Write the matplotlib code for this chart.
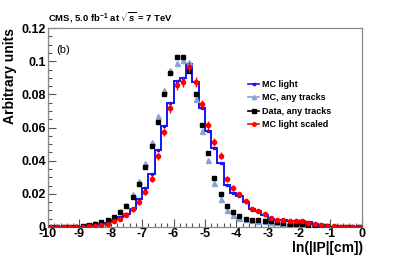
import numpy as np
import matplotlib
matplotlib.use("Agg")
import matplotlib.pyplot as plt
from matplotlib.lines import Line2D
from matplotlib.ticker import MultipleLocator, FuncFormatter

plt.rcParams['font.family'] = ['Liberation Sans', 'DejaVu Sans']
plt.rcParams['mathtext.fontset'] = 'custom'
plt.rcParams['mathtext.rm'] = 'Liberation Sans:bold'
plt.rcParams['mathtext.it'] = 'Liberation Sans:bold:italic'
plt.rcParams['mathtext.bf'] = 'Liberation Sans:bold'
plt.rcParams['axes.unicode_minus'] = False

# bin edges of ln(|IP|[cm]) histogram, 50 bins from -10 to 0
edges = np.linspace(-10, 0, 51)
centers = (edges[:-1] + edges[1:]) / 2

mc_light = [0.0, 0.0, 0.0, 0.0001, 0.0001, 0.0002, 0.0004, 0.0008, 0.0016, 0.0024,
            0.004, 0.006, 0.008, 0.011, 0.0166, 0.0233, 0.032, 0.0466, 0.0608, 0.0751,
            0.088, 0.090, 0.0985, 0.0876, 0.0719, 0.0578, 0.0477, 0.0389, 0.0252, 0.0208,
            0.0186, 0.0151, 0.0111, 0.0095, 0.0071, 0.005, 0.0045, 0.0042, 0.0037, 0.0035,
            0.0035, 0.003, 0.0016, 0.0008, 0.0004, 0.0002, 0.0001, 0.0, 0.0, 0.0]

mc_any = [0.0, 0.0, 0.0, 0.0002, 0.0003, 0.0007, 0.0013, 0.0022, 0.0033, 0.0045,
          0.0063, 0.0095, 0.0131, 0.0196, 0.0280, 0.0385, 0.0513, 0.0668, 0.0824, 0.095,
          0.099, 0.101, 0.0997, 0.077, 0.0582, 0.0403, 0.0266, 0.0167, 0.0105, 0.0075,
          0.0057, 0.0046, 0.0041, 0.0037, 0.0034, 0.0031, 0.0028, 0.0023, 0.0019, 0.0016,
          0.0014, 0.0011, 0.0008, 0.0005, 0.0003, 0.0002, 0.0, 0.0, 0.0, 0.0]

data_any = [0.0, 0.0, 0.0, 0.0002, 0.0002, 0.0006, 0.0012, 0.002, 0.003, 0.004,
            0.0059, 0.009, 0.0125, 0.018, 0.026, 0.036, 0.049, 0.0634, 0.080, 0.0926,
            0.1027, 0.1027, 0.094, 0.080, 0.0614, 0.0445, 0.0297, 0.0196, 0.0125, 0.0088,
            0.0066, 0.005, 0.0045, 0.004, 0.0037, 0.0034, 0.003, 0.0025, 0.002, 0.0017,
            0.0015, 0.0012, 0.0008, 0.0006, 0.0004, 0.0002, 0.0, 0.0, 0.0, 0.0]

mc_scaled = [0.0, 0.0, 0.0, 0.0, 0.0001, 0.0002, 0.0003, 0.0006, 0.0014, 0.002,
             0.0036, 0.005, 0.0075, 0.0107, 0.0151, 0.021, 0.029, 0.043, 0.0574, 0.0715,
             0.0856, 0.0876, 0.0966, 0.0872, 0.0739, 0.0614, 0.051, 0.043, 0.029, 0.0235,
             0.0197, 0.0155, 0.0111, 0.0095, 0.0076, 0.0054, 0.0045, 0.0042, 0.0038, 0.0036,
             0.0034, 0.0027, 0.0018, 0.0012, 0.0008, 0.0004, 0.0002, 0.0001, 0.0, 0.0]

mc_scaled_err = [0.0, 0.0, 0.0, 0.0, 0.0002, 0.0003, 0.0004, 0.0005, 0.0007, 0.0008,
                 0.001, 0.0011, 0.0013, 0.0015, 0.0017, 0.0019, 0.0021, 0.0024, 0.0026, 0.0028,
                 0.003, 0.003, 0.003, 0.003, 0.0028, 0.0026, 0.0024, 0.0022, 0.0019, 0.0017,
                 0.0015, 0.0014, 0.0012, 0.0011, 0.001, 0.0008, 0.0007, 0.0007, 0.0007, 0.0006,
                 0.0006, 0.0006, 0.0005, 0.0004, 0.0003, 0.0002, 0.0002, 0.0001, 0.0, 0.0]

blue = '#1414f5'
light_blue = '#86a3dc'

fig = plt.figure(figsize=(4.07, 2.60), dpi=100)
ax = fig.add_axes([0.118, 0.127, 0.771, 0.765])

ax.stairs(mc_light, edges, color=blue, lw=1.4, zorder=2)
ax.plot(centers, mc_light, ls='none', marker='s', ms=1.6, color=blue, zorder=2)
ax.plot(centers, mc_any, ls='none', marker='^', ms=3.6, color=light_blue, mec=light_blue, zorder=3)
ax.plot(centers, data_any, ls='none', marker='s', ms=3.3, color='black', zorder=4)
ax.errorbar(centers, mc_scaled, yerr=mc_scaled_err, fmt='o', ms=3.0, color='red',
            elinewidth=1.0, capsize=0, zorder=5)

ax.set_xlim(-10, 0)
ax.set_ylim(0, 0.12)
ax.xaxis.set_major_locator(MultipleLocator(1))
ax.xaxis.set_minor_locator(MultipleLocator(0.2))
ax.yaxis.set_major_locator(MultipleLocator(0.02))
ax.yaxis.set_minor_locator(MultipleLocator(0.005))
ax.xaxis.set_major_formatter(FuncFormatter(lambda v, p: '%g' % v))
ax.yaxis.set_major_formatter(FuncFormatter(lambda v, p: '%g' % round(v, 3)))
ax.tick_params(which='both', direction='in', top=False, right=False, color='#555555')
ax.tick_params(which='major', length=6, width=0.8, labelsize=9, pad=1.5)
ax.tick_params(axis='x', which='major', pad=1)
ax.tick_params(which='minor', length=3, width=0.8)
for lab in ax.get_xticklabels() + ax.get_yticklabels():
    lab.set_fontweight('bold')
for sp in ax.spines.values():
    sp.set_color('#888888')
    sp.set_linewidth(0.9)

handles = [
    Line2D([], [], color=blue, lw=1.2, marker='s', ms=1.6),
    Line2D([], [], color=light_blue, lw=1.2, marker='^', ms=3.0),
    Line2D([], [], color='black', lw=1.2, marker='s', ms=2.5),
    Line2D([], [], color='red', lw=1.2, marker='o', ms=2.5),
]
labels = ['MC light', 'MC, any tracks', 'Data, any tracks', 'MC light scaled']
ax.legend(handles, labels, loc='upper left', bbox_to_anchor=(0.637, 0.74),
          frameon=False, prop={'weight': 'bold', 'size': 6.5}, handlelength=1.25,
          handletextpad=0.35, labelspacing=0.5, borderpad=0, borderaxespad=0)

ax.text(-9.52, 0.1067, '(b)', fontsize=8, va='center', ha='center')

fig.text(0.118, 0.931, r'CMS, 5.0 fb$^{-1}$ at $\sqrt{s}$ = 7 TeV', fontsize=6.8,
         fontweight='bold', ha='left', va='center')
fig.text(0.025, 0.892, 'Arbitrary units', rotation=90, fontsize=10, fontweight='bold',
         ha='center', va='top')
fig.text(0.892, 0.046, 'ln(|IP|[cm])', fontsize=10, fontweight='bold', ha='right', va='center')

fig.savefig('out.png', dpi=100)
